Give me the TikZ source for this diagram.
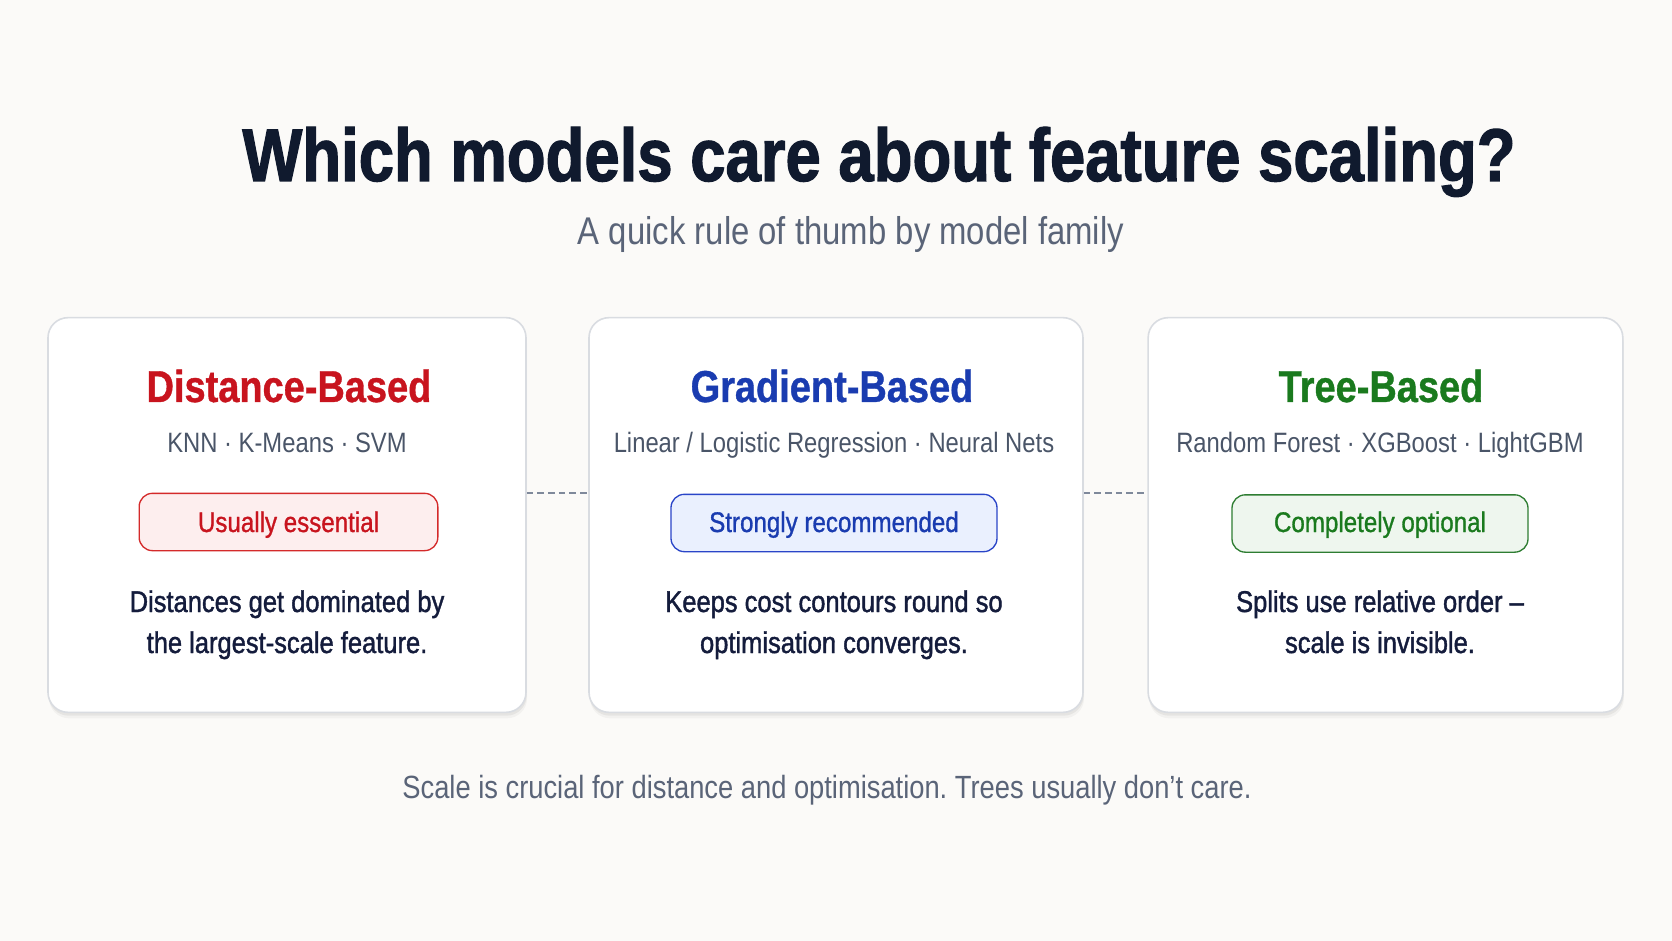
\documentclass[tikz,border=0pt]{standalone}
\usepackage{fontspec}
\setmainfont{Liberation Sans}[FakeStretch=0.85]
\newfontfamily\medfont{Liberation Sans}[FakeStretch=0.85,FakeBold=1.3]
\newfontfamily\badgefont{Liberation Sans}[FakeStretch=0.85,FakeBold=1.0]
\newfontfamily\heavyfont{Liberation Sans Bold}[FakeStretch=0.85,FakeBold=1.6]
\newfontfamily\headfont{Liberation Sans Bold}[FakeStretch=0.85,FakeBold=0.8]
\usetikzlibrary{shadows}
\frenchspacing
\definecolor{bgc}{HTML}{FBFAF8}
\definecolor{titlec}{HTML}{101A2E}
\definecolor{subtc}{HTML}{5A6478}
\definecolor{famc}{HTML}{4A5568}
\definecolor{bodyc}{HTML}{141C3C}
\definecolor{cardline}{HTML}{D9DCE1}
\definecolor{dashc}{HTML}{7F899B}
\definecolor{redc}{HTML}{C8141E}
\definecolor{redfill}{HTML}{FDEEEE}
\definecolor{redline}{HTML}{D42A2A}
\definecolor{bluec}{HTML}{1A3CB0}
\definecolor{bluefill}{HTML}{EAF0FE}
\definecolor{blueline}{HTML}{2A45C8}
\definecolor{greenc}{HTML}{1A7A1E}
\definecolor{greenfill}{HTML}{EEF6EE}
\definecolor{greenline}{HTML}{2E7D32}
\tikzset{
  card/.style={draw=cardline, line width=1.2pt, fill=white, rounded corners=15pt,
    general shadow={fill=black, opacity=0.035, shadow yshift=-4.5pt, shadow xshift=0.8pt},
    general shadow={fill=black, opacity=0.05, shadow yshift=-2.5pt, shadow xshift=0.5pt},
    minimum height=296pt, inner sep=0pt},
  badge/.style={line width=1pt, rounded corners=10pt, minimum height=43pt, inner sep=0pt},
  head/.style={anchor=base, font=\fontsize{33.5}{40}\headfont},
  fam/.style={anchor=base, text=famc, font=\fontsize{21}{26}\selectfont},
  btxt/.style={anchor=base, font=\fontsize{21.3}{26}\badgefont},
  body/.style={anchor=base, text=bodyc, font=\fontsize{22.5}{31}\medfont},
  dashline/.style={draw=dashc, line width=1pt, dash pattern=on 5pt off 3pt}
}
\begin{document}
\begin{tikzpicture}[x=0.75pt,y=-0.75pt]
\fill[bgc] (0,0) rectangle (1672,941);
\useasboundingbox (0,0) rectangle (1672,941);

\node[anchor=base, text=titlec, font=\fontsize{56}{64}\heavyfont] (title) at (879,181) {Which models care about feature scaling?};
\node[anchor=base, text=subtc, font=\fontsize{29}{34}\selectfont] (subtitle) at (851,245) {A quick rule of thumb by model family};

% cards
\node[card, minimum width=358.5pt] (c1) at (287,515) {};
\node[card, minimum width=370.5pt] (c2) at (836,515) {};
\node[card, minimum width=356pt] (c3) at (1385.5,515) {};

\draw[dashline] ([yshift=16.5pt]c1.east) -- ([yshift=16.5pt]c2.west);
\draw[dashline] ([yshift=16.5pt]c2.east) -- ([yshift=16.5pt]c3.west);

% card 1
\node[head, text=redc] (h1) at (289,402) {Distance-Based};
\node[fam] (f1) at (287,452) {KNN · K-Means · SVM};
\node[badge, draw=redline, fill=redfill, minimum width=224pt] (b1) at (288.5,522) {};
\node[btxt, text=redc] (bt1) at (288.5,532) {Usually essential};
\node[body] (d1a) at (287,612) {Distances get dominated by};
\node[body] (d1b) at (287,653) {the largest-scale feature.};

% card 2
\node[head, text=bluec] (h2) at (832,402) {Gradient-Based};
\node[fam] (f2) at (834,452) {Linear / Logistic Regression · Neural Nets};
\node[badge, draw=blueline, fill=bluefill, minimum width=244.5pt] (b2) at (834,523) {};
\node[btxt, text=bluec] (bt2) at (834,532) {Strongly recommended};
\node[body] (d2a) at (834,612) {Keeps cost contours round so};
\node[body] (d2b) at (834,653) {optimisation converges.};

% card 3
\node[head, text=greenc] (h3) at (1381,402) {Tree-Based};
\node[fam] (f3) at (1380,452) {Random Forest · XGBoost · LightGBM};
\node[badge, draw=greenline, fill=greenfill, minimum width=222pt] (b3) at (1380,523.5) {};
\node[btxt, text=greenc] (bt3) at (1380,532) {Completely optional};
\node[body] (d3a) at (1380,612) {Splits use relative order –};
\node[body] (d3b) at (1380,653) {scale is invisible.};

\node[anchor=base, text=subtc, font=\fontsize{24.1}{28}\selectfont] (foot) at (827,798) {Scale is crucial for distance and optimisation. Trees usually don’t care.};
\end{tikzpicture}
\end{document}
